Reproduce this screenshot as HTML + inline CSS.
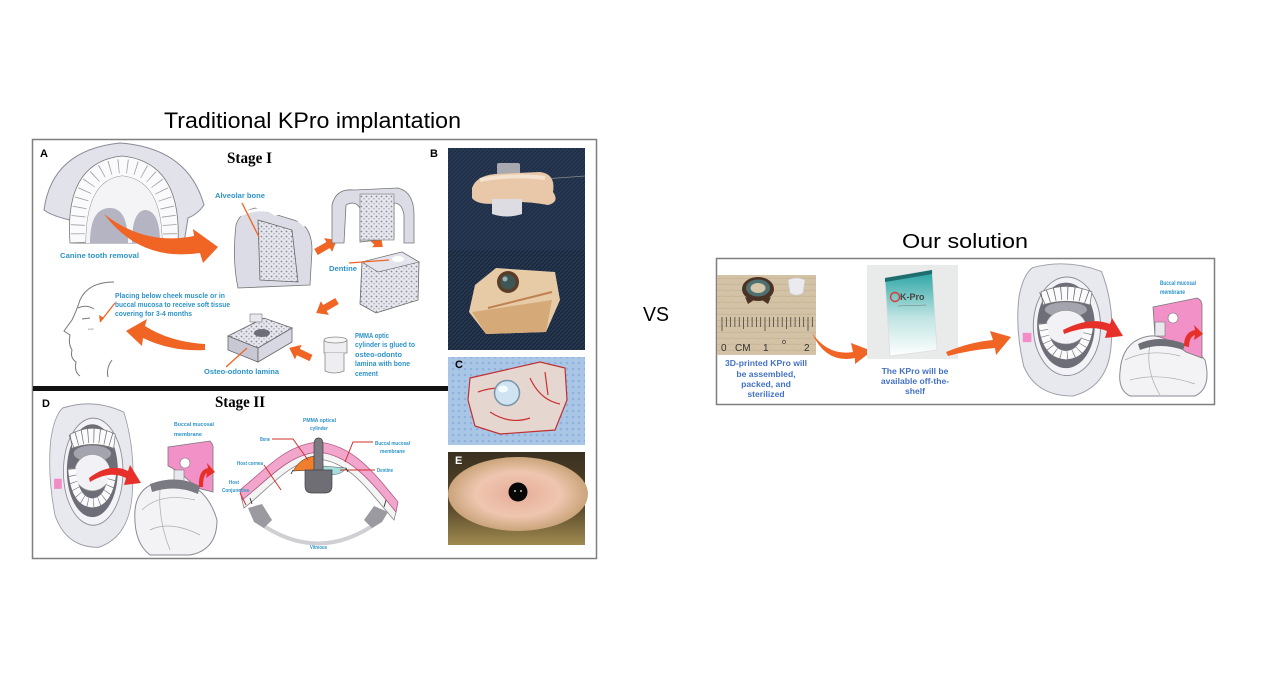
<!DOCTYPE html>
<html><head><meta charset="utf-8">
<style>
html,body{margin:0;padding:0;background:#fff;}
svg{display:block;}
text{font-family:"Liberation Sans",sans-serif;}
.lb{fill:#2e93c8;font-weight:bold;}
.rb{fill:#4472c4;font-weight:bold;font-size:8.6px;}
.ser{font-family:"Liberation Serif",serif;font-weight:bold;}
</style></head><body>
<svg width="1263" height="682" viewBox="0 0 1263 682" xmlns="http://www.w3.org/2000/svg">
<defs>
<pattern id="stip" width="5" height="5" patternUnits="userSpaceOnUse">
<rect width="5" height="5" fill="#e6e6ee"/>
<circle cx="1.5" cy="1.5" r="0.9" fill="#8a8a96"/>
<circle cx="4" cy="3.8" r="0.7" fill="#9a9aa6"/>
</pattern>
<pattern id="denim" width="4" height="4" patternUnits="userSpaceOnUse">
<rect width="4" height="4" fill="#1c2a40"/>
<path d="M0,4 L4,0" stroke="#2b3c57" stroke-width="1"/>
</pattern>
<pattern id="bluecloth" width="6" height="6" patternUnits="userSpaceOnUse">
<rect width="6" height="6" fill="#a9c6e6"/>
<circle cx="3" cy="3" r="1.3" fill="#8fb2da"/>
</pattern>
<pattern id="wood" width="10" height="6" patternUnits="userSpaceOnUse">
<rect width="10" height="6" fill="#d3c2a6"/>
<path d="M0,2 L10,2.5" stroke="#c6b392" stroke-width="0.8"/>
</pattern>
<linearGradient id="box" x1="0" y1="0" x2="0" y2="1">
<stop offset="0" stop-color="#24a2a2"/>
<stop offset="0.55" stop-color="#bfe4e2"/>
<stop offset="1" stop-color="#ffffff"/>
</linearGradient>
<linearGradient id="eyebg" x1="0" y1="0" x2="0" y2="1">
<stop offset="0" stop-color="#3a3020"/>
<stop offset="0.6" stop-color="#5a4a2c"/>
<stop offset="1" stop-color="#a08a50"/>
</linearGradient>
<radialGradient id="sclera" cx="0.5" cy="0.5" r="0.5">
<stop offset="0" stop-color="#e6ac98"/>
<stop offset="0.6" stop-color="#efc6b0"/>
<stop offset="1" stop-color="#caa47a"/>
</radialGradient>
<g id="mouth">
<path d="M16,4 Q52,-6 88,8 Q102,45 98,88 Q95,132 58,142 Q20,142 7,110 Q-2,70 2,36 Q6,12 16,4 Z" fill="#e8e8ef" stroke="#9c9ca8" stroke-width="1"/>
<ellipse cx="52" cy="67" rx="35" ry="53" fill="#f3f3f7" stroke="#8c8c98" stroke-width="1"/>
<ellipse cx="51" cy="66" rx="30" ry="46" fill="#6e6e78"/>
<ellipse cx="51" cy="49" rx="22" ry="8" fill="#a4a4ae"/>
<path d="M25,30 Q51,18 78,30 L76,44 Q51,36 27,44 Z" fill="#fbfbfd" stroke="#777" stroke-width="0.8"/>
<path d="M26,37 Q51,26 77,37" fill="none" stroke="#666" stroke-width="14" stroke-dasharray="0.8 6"/>
<ellipse cx="51" cy="68" rx="21" ry="18" fill="#f2f2f6" stroke="#999" stroke-width="0.6"/>
<path d="M27,64 Q30,97 51,98 Q72,97 75,64" fill="none" stroke="#fafafc" stroke-width="9"/>
<path d="M27,64 Q30,97 51,98 Q72,97 75,64" fill="none" stroke="#777" stroke-width="9" stroke-dasharray="0.7 6"/>
<rect x="6" y="74" width="9" height="10" fill="#f28cc6"/>
</g>
</defs>

<!-- Titles -->
<text x="164" y="128" font-size="22" textLength="297" lengthAdjust="spacingAndGlyphs" fill="#000">Traditional KPro implantation</text>
<text x="902" y="248" font-size="20" textLength="126" lengthAdjust="spacingAndGlyphs" fill="#000">Our solution</text>
<text x="643" y="321" font-size="20" textLength="26" lengthAdjust="spacingAndGlyphs" fill="#000">VS</text>

<!-- Left panel frame -->
<rect x="32.5" y="139.5" width="564" height="419" fill="#fff" stroke="#7f7f7f" stroke-width="1.5"/>

<text x="40" y="157" font-size="11" font-weight="bold">A</text>
<text x="227" y="163" font-size="16" class="ser" textLength="45" lengthAdjust="spacingAndGlyphs">Stage I</text>
<text x="430" y="157" font-size="11" font-weight="bold">B</text>

<!-- upper jaw -->
<path d="M44,210 Q52,150 120,143 Q188,148 204,205 Q198,214 188,218 L184,243 L74,243 L70,220 Q52,216 44,210 Z" fill="#e2e2ea" stroke="#8a8a98" stroke-width="1"/>
<path d="M70,243 Q64,162 122,156 Q182,162 178,243 L162,243 Q162,180 122,176 Q86,180 86,243 Z" fill="#fafafc" stroke="#777" stroke-width="0.8"/>
<path d="M78,243 Q74,168 122,166 Q172,168 170,243" fill="none" stroke="#777" stroke-width="14" stroke-dasharray="0.8 8" opacity="0.7"/>
<path d="M86,243 Q86,180 122,176 Q162,180 162,243 Z" fill="#f4f4f7"/>
<path d="M90,243 Q90,208 110,208 Q128,208 128,243 Z" fill="#b4b4c2"/>
<path d="M132,243 Q132,210 146,210 Q160,212 160,243 Z" fill="#b4b4c2"/>
<text x="60" y="258" font-size="7.5" class="lb" textLength="79" lengthAdjust="spacingAndGlyphs">Canine tooth removal</text>
<!-- big curved arrow -->
<path d="M104,214 Q145,246 194,236 L193,229 L218,247 L203,263 L200,253 Q140,262 104,214 Z" fill="#f06424"/>

<!-- alveolar bone block -->
<text x="215" y="198" font-size="7.5" class="lb" textLength="50" lengthAdjust="spacingAndGlyphs">Alveolar bone</text>
<path d="M236,225 Q240,212 255,208 L300,222 Q312,230 312,250 L310,285 L238,288 Q232,260 236,225 Z" fill="#dcdce6" stroke="#777" stroke-width="0.8"/>
<path d="M240,215 Q262,205 275,214 Q290,210 305,226" fill="none" stroke="#fff" stroke-width="3"/>
<path d="M258,220 L292,230 L298,282 L260,280 Z" fill="url(#stip)" stroke="#666" stroke-width="0.8"/>
<line x1="242" y1="203" x2="259" y2="237" stroke="#f06424" stroke-width="1.3"/>
<!-- arrows -->
<g fill="#f06424">
<path d="M0,-3.5 L14,-3.5 L14,-8 L24,0 L14,8 L14,3.5 L0,3.5 Z" transform="translate(316,252) rotate(-30)"/>
<path d="M0,-3.5 L6,-3.5 L6,-7 L14,0 L6,7 L6,3.5 L0,3.5 Z" transform="translate(372,238) rotate(40)"/>
<path d="M0,-3.5 L14,-3.5 L14,-8 L24,0 L14,8 L14,3.5 L0,3.5 Z" transform="translate(337,301) rotate(150)"/>
<path d="M0,-3.5 L14,-3.5 L14,-8 L24,0 L14,8 L14,3.5 L0,3.5 Z" transform="translate(311,358) rotate(205)"/>
</g>
<!-- top right bone -->
<path d="M332,243 L332,205 Q336,188 354,190 L398,188 Q414,192 414,215 L414,243 L404,243 L404,215 Q402,203 394,203 L394,238 L360,242 L360,208 Q355,200 346,205 L344,243 Z" fill="#dcdce6" stroke="#777" stroke-width="0.8"/>
<rect x="360" y="194" width="34" height="46" fill="url(#stip)" stroke="#777" stroke-width="0.6"/>
<!-- dentine slab -->
<text x="329" y="271" font-size="7.5" class="lb" textLength="28" lengthAdjust="spacingAndGlyphs">Dentine</text>
<polygon points="362,262 402,252 419,262 418,300 376,313 360,304" fill="url(#stip)" stroke="#666" stroke-width="0.8"/>
<polygon points="362,262 402,252 419,262 378,272" fill="#e4e4ec" stroke="#666" stroke-width="0.6"/>
<ellipse cx="398" cy="259" rx="6" ry="3" fill="#fff"/>
<line x1="349" y1="263" x2="389" y2="260" stroke="#f06424" stroke-width="1.3"/>

<!-- head -->
<g fill="none" stroke="#777" stroke-width="1">
<path d="M114,282 Q88,282 80,300 Q76,312 72,320 L64,331 L70,335 Q68,344 72,350 Q70,358 76,362 Q74,372 80,376"/>
<path d="M112,360 Q106,368 108,377"/>
<path d="M78,308 Q86,304 94,309"/>
<path d="M82,319 L90,318"/>
</g>
<line x1="115" y1="303" x2="100" y2="322" stroke="#f06424" stroke-width="1.3"/>
<path d="M100,322 L99,315 L104,318 Z" fill="#f06424"/>
<text x="88" y="330" font-size="3" fill="#777">scar</text>
<text x="115" y="298" font-size="7" class="lb" textLength="110" lengthAdjust="spacingAndGlyphs">Placing below cheek muscle or in</text>
<text x="115" y="307" font-size="7" class="lb" textLength="115" lengthAdjust="spacingAndGlyphs">buccal mucosa to receive soft tissue</text>
<text x="115" y="316" font-size="7" class="lb" textLength="77" lengthAdjust="spacingAndGlyphs">covering for 3-4 months</text>
<!-- curved arrow to head -->
<path d="M205,344 Q170,342 145,326 L147,319 L126,331 L142,346 L143,338 Q172,352 205,350 Z" fill="#f06424"/>

<!-- lamina -->
<polygon points="228,336 264,318 292,328 258,348" fill="url(#stip)" stroke="#666" stroke-width="0.8"/>
<polygon points="228,336 258,348 258,362 228,350" fill="#c8c8d4" stroke="#666" stroke-width="0.8"/>
<polygon points="258,348 292,328 292,342 258,362" fill="#d8d8e2" stroke="#666" stroke-width="0.8"/>
<ellipse cx="262" cy="333" rx="8" ry="4" fill="#6e6e78"/>
<rect x="250" y="314" width="12" height="8" fill="#e8e8ee" stroke="#777" stroke-width="0.6"/>
<line x1="226" y1="367" x2="247" y2="348" stroke="#f06424" stroke-width="1.3"/>
<text x="204" y="374" font-size="7.5" class="lb" textLength="75" lengthAdjust="spacingAndGlyphs">Osteo-odonto lamina</text>
<!-- cylinder -->
<path d="M324,340 L324,353 L347,353 L347,340" fill="#eeeef2" stroke="#888" stroke-width="0.8"/>
<ellipse cx="335.5" cy="340" rx="11.5" ry="3" fill="#f6f6f8" stroke="#888" stroke-width="0.8"/>
<path d="M325,353 L325,371 Q334,375 344,371 L344,353" fill="#eeeef2" stroke="#888" stroke-width="0.8"/>
<text x="355" y="338" font-size="7" class="lb" textLength="34" lengthAdjust="spacingAndGlyphs">PMMA optic</text>
<text x="355" y="347" font-size="7" class="lb" textLength="60" lengthAdjust="spacingAndGlyphs">cylinder is glued to</text>
<text x="355" y="357" font-size="7" class="lb" textLength="47" lengthAdjust="spacingAndGlyphs">osteo-odonto</text>
<text x="355" y="366" font-size="7" class="lb" textLength="55" lengthAdjust="spacingAndGlyphs">lamina with bone</text>
<text x="355" y="376" font-size="7" class="lb" textLength="23" lengthAdjust="spacingAndGlyphs">cement</text>

<!-- black divider -->
<rect x="33" y="386" width="415" height="5" fill="#111"/>

<!-- Stage II -->
<text x="42" y="407" font-size="11" font-weight="bold">D</text>
<text x="215" y="407" font-size="16" class="ser" textLength="50" lengthAdjust="spacingAndGlyphs">Stage II</text>
<use href="#mouth" transform="translate(49,404) scale(0.85,1.01)"/>
<path d="M89,478 Q110,462 128,471 L130,465 L141,483 L124,485 L126,478 Q110,470 90,482 Z" fill="#e8302a"/>
<!-- eye sketch left -->
<path d="M135,510 Q138,480 175,480 Q207,485 217,520 Q217,550 190,555 L150,555 Q133,542 135,510 Z" fill="#f3f3f6" stroke="#8a8a96" stroke-width="1"/>
<path d="M142,510 Q160,492 195,500 M150,530 Q170,520 200,535 M160,490 Q158,520 170,550" fill="none" stroke="#aaa" stroke-width="0.7"/>
<path d="M168,447 L210,441 Q214,445 213,450 L213,492 L197,488 Q178,470 168,466 Z" fill="#f291c8" stroke="#777" stroke-width="0.8"/>
<circle cx="185" cy="463" r="5" fill="#fff" stroke="#777" stroke-width="0.6"/>
<rect x="174" y="470" width="10" height="14" fill="#e8e8ee" stroke="#777" stroke-width="0.6"/>
<path d="M150,484 Q178,474 200,486 L198,494 Q176,484 152,492 Z" fill="#7a7a82"/>
<path d="M199,487 Q198,470 208,468 L207,463 L215,472 L206,478 L207,473 Q203,475 203,487 Z" fill="#e8302a"/>
<text x="174" y="426" font-size="5.5" class="lb" textLength="40" lengthAdjust="spacingAndGlyphs">Buccal mucosal</text>
<text x="174" y="436" font-size="5.5" class="lb" textLength="28" lengthAdjust="spacingAndGlyphs">membrane</text>

<!-- cross section -->
<path d="M258,522 Q318,565 378,522" fill="none" stroke="#d0d0d4" stroke-width="4"/>
<path d="M242,500 C268,480 287,455 318,452 C350,455 370,480 396,512 L394,520 C368,490 350,462 318,459 C288,462 270,488 244,508 Z" fill="#f4f4f4" stroke="#888" stroke-width="0.8"/>
<path d="M248,508 L262,504 L272,520 L264,528 L254,522 Z" fill="#9a9aa0"/>
<path d="M388,512 L374,506 L364,520 L372,528 L382,522 Z" fill="#9a9aa0"/>
<path d="M240,490 C265,470 285,445 318,442 C352,445 372,470 398,502 L396,512 C370,480 350,455 318,452 C287,455 268,480 242,500 Z" fill="#f2a6cc" stroke="#b65a8a" stroke-width="0.8"/>
<path d="M293,471 Q300,458 314,456 L314,470 Z" fill="#f07e2c" stroke="#333" stroke-width="0.5"/>
<path d="M323,466 L346,468 Q342,476 323,475 Z" fill="#a6dede" stroke="#555" stroke-width="0.5"/>
<path d="M314,445 Q314,438 318.5,438 Q323,438 323,445 L323,470 L314,470 Z" fill="#7a7a80" stroke="#444" stroke-width="0.7"/>
<path d="M305,470 L332,470 L332,486 Q332,493 325,493 L312,493 Q305,493 305,486 Z" fill="#6e6e74" stroke="#444" stroke-width="0.7"/>
<g fill="none" stroke="#d0302a" stroke-width="1">
<path d="M272,439 L293,439 L308,460"/>
<path d="M373,442 L353,442 L345,462"/>
<path d="M375,470 L340,470"/>
<path d="M264,465 L281,490"/>
<path d="M240,493 L246,505"/>
</g>
<g stroke="#222" stroke-width="0.8" fill="none"><path d="M250,498 l2,6 M386,500 l-2,7 M293,470 l-2,4 M346,468 l2,4"/></g>
<text x="303" y="422" font-size="5" class="lb" textLength="33" lengthAdjust="spacingAndGlyphs">PMMA optical</text>
<text x="310" y="430" font-size="5" class="lb" textLength="18" lengthAdjust="spacingAndGlyphs">cylinder</text>
<text x="260" y="441" font-size="5" class="lb" textLength="10" lengthAdjust="spacingAndGlyphs">Bone</text>
<text x="375" y="445" font-size="5" class="lb" textLength="35" lengthAdjust="spacingAndGlyphs">Buccal mucosal</text>
<text x="380" y="453" font-size="5" class="lb" textLength="25" lengthAdjust="spacingAndGlyphs">membrane</text>
<text x="377" y="472" font-size="5" class="lb" textLength="16" lengthAdjust="spacingAndGlyphs">Dentine</text>
<text x="237" y="465" font-size="5" class="lb" textLength="26" lengthAdjust="spacingAndGlyphs">Host cornea</text>
<text x="229" y="484" font-size="5" class="lb" textLength="10" lengthAdjust="spacingAndGlyphs">Host</text>
<text x="222" y="492" font-size="5" class="lb" textLength="27" lengthAdjust="spacingAndGlyphs">Conjunctiva</text>
<text x="310" y="549" font-size="5" class="lb" textLength="17" lengthAdjust="spacingAndGlyphs">Vitreous</text>

<!-- Photo B -->
<rect x="448" y="148" width="137" height="102" fill="url(#denim)"/>
<rect x="448" y="148" width="137" height="102" fill="#2a3e5e" opacity="0.25"/>
<line x1="530" y1="180" x2="585" y2="176" stroke="#8a8a90" stroke-width="0.8"/>
<rect x="497" y="163" width="23" height="12" rx="2" fill="#a8a8b0"/>
<path d="M472,188 Q476,176 495,174 L540,172 Q556,174 553,192 Q560,202 548,205 Q520,200 500,203 Q478,206 472,198 Z" fill="#e8c8a8"/>
<path d="M480,180 Q510,174 545,178" fill="none" stroke="#f4e2d0" stroke-width="4"/>
<path d="M492,199 L522,199 L522,214 Q507,219 492,214 Z" fill="#dcdce2"/>
<rect x="448" y="250" width="137" height="100" fill="url(#denim)"/>
<path d="M475,285 L496,268 L555,272 L560,300 L546,332 L486,334 L469,312 Z" fill="#e7cba6"/>
<path d="M472,312 L552,300 L546,332 L486,334 Z" fill="#d6aa78"/>
<path d="M488,308 L552,292" stroke="#c08050" stroke-width="2"/>
<circle cx="508" cy="282" r="11" fill="#5a3c28"/>
<circle cx="508" cy="282" r="7.5" fill="#3e5656"/>
<circle cx="505" cy="279" r="2.5" fill="#9ab0b0"/>
<!-- Photo C -->
<rect x="448" y="357" width="137" height="88" fill="url(#bluecloth)"/>
<path d="M470,378 L540,362 L565,368 L567,400 L555,430 L500,434 L475,426 L468,400 Z" fill="#e6d6d0" stroke="#c03030" stroke-width="1.2"/>
<path d="M478,392 Q500,384 520,392 M530,378 Q540,400 560,404 M490,412 Q510,425 530,418 M545,372 L548,395" fill="none" stroke="#cc3030" stroke-width="1.2"/>
<circle cx="507" cy="393" r="12.5" fill="#cfe3f2" stroke="#7a96a6" stroke-width="1.5"/>
<ellipse cx="503" cy="389" rx="5" ry="3.5" fill="#f4fbff"/>
<text x="455" y="368" font-size="11" font-weight="bold">C</text>
<!-- Photo E -->
<rect x="448" y="452" width="137" height="93" fill="url(#eyebg)"/>
<ellipse cx="518" cy="494" rx="70" ry="37" fill="url(#sclera)"/>
<circle cx="518" cy="492" r="9.5" fill="#080808"/>
<circle cx="515" cy="491" r="0.9" fill="#fff"/><circle cx="521" cy="491" r="0.9" fill="#fff"/>
<text x="455" y="464" font-size="11" font-weight="bold" fill="#fff">E</text>

<!-- Right panel -->
<rect x="716.5" y="258.5" width="498" height="146" fill="#fff" stroke="#7f7f7f" stroke-width="1.5"/>
<!-- photo 1 -->
<rect x="717" y="275" width="99" height="80" fill="url(#wood)"/>
<ellipse cx="758" cy="289" rx="16" ry="12" fill="#4a3324"/>
<ellipse cx="758" cy="288" rx="12" ry="8.5" fill="#4f7070"/>
<ellipse cx="758" cy="288" rx="7.5" ry="5" fill="#d6c6aa"/>
<path d="M745,297 L748,304 L754,300 M771,297 L768,304 L762,300" fill="#4a3324"/>
<path d="M788,280 Q796,276 805,280 L803,293 Q796,297 790,293 Z" fill="#ebebef" stroke="#c8c8d0" stroke-width="0.6"/>
<g stroke="#333" stroke-width="0.7">
<path d="M722,317 v14 M726.3,317 v10 M730.6,317 v10 M734.9,317 v10 M739.2,317 v10 M743.5,317 v12 M747.8,317 v10 M752.1,317 v10 M756.4,317 v10 M760.7,317 v10 M765,317 v14 M769.3,317 v10 M773.6,317 v10 M777.9,317 v10 M782.2,317 v10 M786.5,317 v12 M790.8,317 v10 M795.1,317 v10 M799.4,317 v10 M803.7,317 v10 M808,317 v14 M812.3,317 v10"/>
</g>
<text x="721" y="351" font-size="10" fill="#333">0</text>
<text x="735" y="351" font-size="10" fill="#333">CM</text>
<text x="763" y="351" font-size="10" fill="#333">1</text>
<text x="804" y="351" font-size="10" fill="#333">2</text>
<circle cx="784" cy="342" r="1.6" fill="none" stroke="#333" stroke-width="0.6"/>
<text x="766" y="366" class="rb" text-anchor="middle">3D-printed KPro will</text>
<text x="766" y="377" class="rb" text-anchor="middle">be assembled,</text>
<text x="766" y="387" class="rb" text-anchor="middle">packed, and</text>
<text x="766" y="397" class="rb" text-anchor="middle">sterilized</text>
<!-- arrow 1 -->
<path d="M812,333 Q828,356 853,352 L851,343 L872,351 L855,364 L855,358 Q826,364 812,333 Z" fill="#f06424"/>
<!-- photo 2 -->
<rect x="867" y="265" width="91" height="94" fill="#e9eaea"/>
<path d="M885,278 L932,270 L937,350 L890,356 Z" fill="url(#box)" stroke="#d8d8d8" stroke-width="0.6"/>
<path d="M885,278 L932,270 L932,274 L885,282 Z" fill="#1e6e70"/>
<circle cx="895" cy="297" r="4.5" fill="none" stroke="#d83a3a" stroke-width="1.4"/>
<text x="900" y="300" font-size="9" font-weight="bold" fill="#444">K-Pro</text>
<line x1="898" y1="306" x2="926" y2="305" stroke="#777" stroke-width="0.5"/>
<text x="915" y="374" class="rb" text-anchor="middle">The KPro will be</text>
<text x="915" y="384" class="rb" text-anchor="middle">available off-the-</text>
<text x="915" y="394" class="rb" text-anchor="middle">shelf</text>
<!-- arrow 2 -->
<path d="M946,352 Q970,342 993,340 L990,331 L1011,337 L996,355 L995,348 Q970,350 948,356 Z" fill="#f06424"/>
<!-- mouth right -->
<use href="#mouth" transform="translate(1017,264) scale(0.96,0.93)"/>
<path d="M1063,330 Q1090,316 1110,324 L1112,318 L1123,336 L1105,338 L1107,331 Q1090,324 1064,334 Z" fill="#e8302a"/>
<!-- eye right -->
<path d="M1120,372 Q1122,340 1150,336 Q1185,334 1205,360 Q1212,388 1195,396 L1130,396 Q1118,390 1120,372 Z" fill="#f3f3f6" stroke="#8a8a96" stroke-width="1"/>
<path d="M1125,360 Q1150,348 1180,356 M1130,380 Q1160,372 1195,384 M1150,345 Q1145,370 1160,395" fill="none" stroke="#aaa" stroke-width="0.7"/>
<path d="M1153,307 L1197,298 Q1202,300 1202,305 L1202,358 L1186,352 Q1168,338 1155,336 Z" fill="#f291c8" stroke="#777" stroke-width="0.8"/>
<circle cx="1173" cy="318" r="5" fill="#fff" stroke="#777" stroke-width="0.6"/>
<rect x="1155" y="322" width="10" height="14" fill="#e8e8ee" stroke="#777" stroke-width="0.6"/>
<path d="M1138,344 Q1160,334 1185,344 L1183,350 Q1160,342 1140,350 Z" fill="#6e6e76"/>
<path d="M1184,346 Q1184,332 1195,330 L1194,325 L1203,334 L1194,340 L1195,335 Q1189,337 1189,347 Z" fill="#e8302a"/>
<text x="1160" y="285" font-size="6.5" class="lb" textLength="36" lengthAdjust="spacingAndGlyphs">Buccal mucosal</text>
<text x="1160" y="294" font-size="6.5" class="lb" textLength="25" lengthAdjust="spacingAndGlyphs">membrane</text>
</svg>
</body></html>
